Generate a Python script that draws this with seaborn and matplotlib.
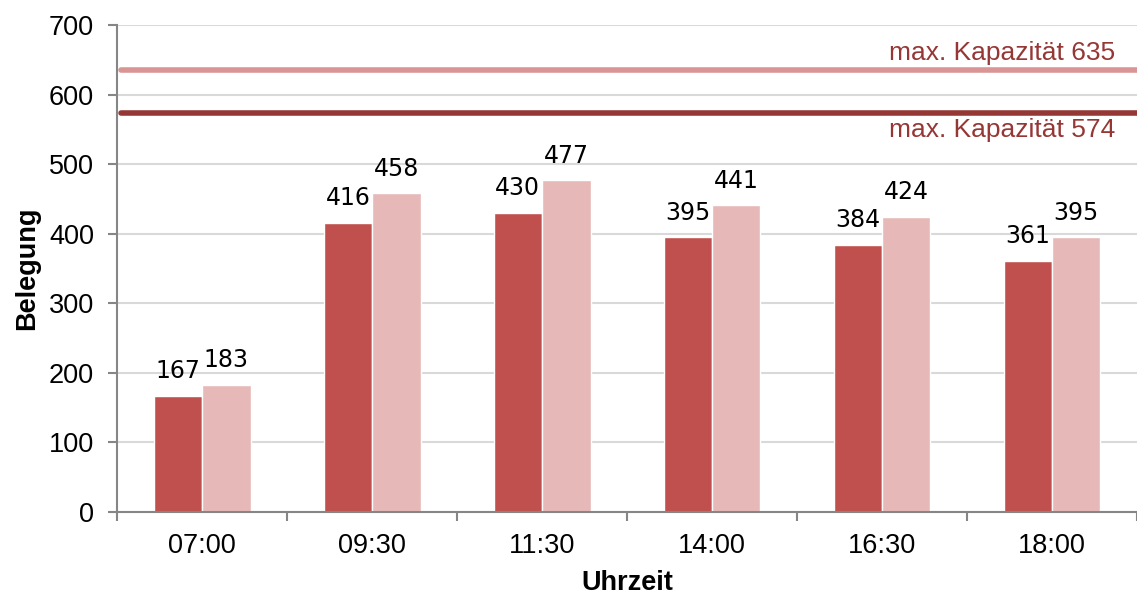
import pandas as pd
import matplotlib
matplotlib.use("Agg")
import matplotlib.pyplot as plt
import seaborn as sns

# data
zeiten = ["07:00", "09:30", "11:30", "14:00", "16:30", "18:00"]
belegung_a = [167, 416, 430, 395, 384, 361]
belegung_b = [183, 458, 477, 441, 424, 395]
kapazitaet_a = 574
kapazitaet_b = 635

df = pd.DataFrame({
    "Uhrzeit": zeiten * 2,
    "Belegung": belegung_a + belegung_b,
    "Serie": ["A"] * len(zeiten) + ["B"] * len(zeiten),
})

sns.set_theme(style="white")
plt.rcParams["font.family"] = ["Liberation Sans", "DejaVu Sans"]
plt.rcParams["text.color"] = "black"
plt.rcParams["axes.labelcolor"] = "black"
plt.rcParams["xtick.color"] = "black"
plt.rcParams["ytick.color"] = "black"

dark_red = "#c0504d"
light_red = "#e6b9b8"
line_dark = "#953735"
line_light = "#d99594"
gray = "#868686"

fig = plt.figure(figsize=(11.37, 5.94), dpi=100)
ax = fig.add_axes([0.103, 0.138, 0.897, 0.82])

sns.barplot(data=df, x="Uhrzeit", y="Belegung", hue="Serie",
            palette=[dark_red, light_red], width=0.57, gap=0,
            saturation=1, legend=False, ax=ax)

ax.set_ylim(0, 700)
ax.set_xlim(-0.5, len(zeiten) - 0.5)
ax.set_yticks(range(0, 701, 100))
ax.yaxis.grid(True, color="#d9d9d9", linewidth=1.5)
ax.set_axisbelow(True)

# capacity lines
ax.axhline(kapazitaet_b, xmin=0.004, color=line_light, linewidth=4)
ax.axhline(kapazitaet_a, xmin=0.004, color=line_dark, linewidth=4)
ax.text(len(zeiten) - 0.63, kapazitaet_b + 8, "max. Kapazität %d" % kapazitaet_b,
        ha="right", va="bottom", fontsize=19, color=line_dark)
ax.text(len(zeiten) - 0.63, kapazitaet_a - 8, "max. Kapazität %d" % kapazitaet_a,
        ha="right", va="top", fontsize=19, color=line_dark)

# value labels
for cont in ax.containers:
    for bar in cont:
        h = bar.get_height()
        ax.annotate("%d" % h, (bar.get_x() + bar.get_width() / 2, h),
                    xytext=(0, 9), textcoords="offset points",
                    ha="center", va="bottom", fontsize=17,
                    family="DejaVu Sans", color="black")

for s in ["top", "right"]:
    ax.spines[s].set_visible(False)
for s in ["left", "bottom"]:
    ax.spines[s].set_color(gray)
    ax.spines[s].set_linewidth(1.5)

# x ticks between categories
ax.set_xticks(range(len(zeiten)))
ax.set_xticklabels(zeiten)
ax.set_xticks([i - 0.5 for i in range(len(zeiten) + 1)], minor=True)
ax.tick_params(axis="x", which="major", length=0, pad=15, labelsize=19.5)
ax.tick_params(axis="x", which="minor", length=6.5, width=1.5, color=gray,
               direction="out", bottom=True)
ax.tick_params(axis="y", length=6.5, width=1.5, color=gray, direction="out",
               left=True, pad=10, labelsize=19.5)

ax.set_xlabel("Uhrzeit", fontsize=19.5, fontweight="bold", labelpad=8)
ax.set_ylabel("Belegung", fontsize=19.5, fontweight="bold", labelpad=6)

fig.savefig("out.png", dpi=100)
